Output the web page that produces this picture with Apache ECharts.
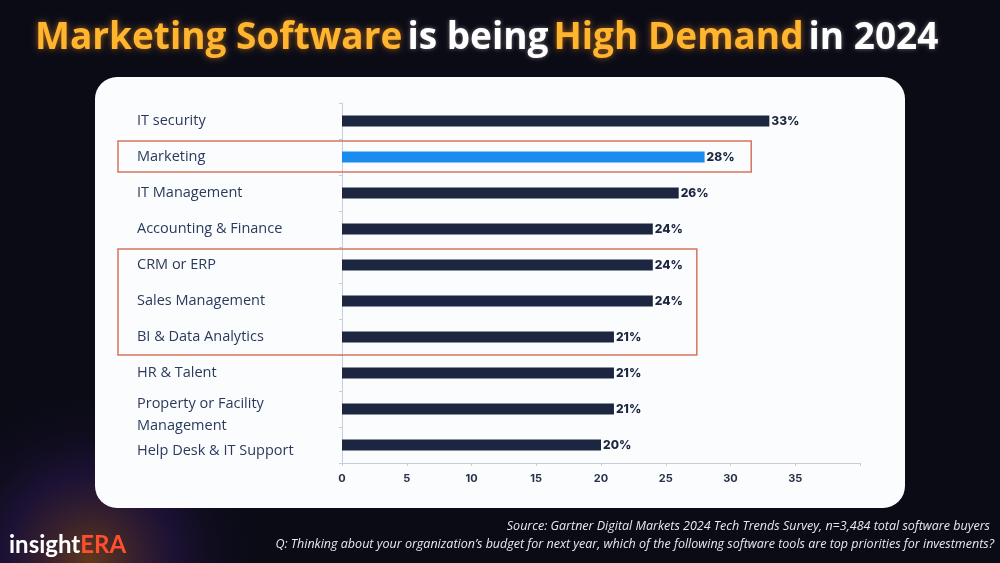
<!DOCTYPE html>
<html>
<head>
<meta charset="utf-8">
<script src="https://cdn.jsdelivr.net/npm/echarts@6/dist/echarts.min.js"></script>
<style>
  html, body { margin: 0; padding: 0; background: #0b0b16; }
  #main { width: 1000px; height: 563px; }
</style>
</head>
<body>
<div id="main"></div>
<script>
// 数据
var categories = ['IT security', 'Marketing', 'IT Management', 'Accounting & Finance', 'CRM or ERP',
    'Sales Management', 'BI & Data Analytics', 'HR & Talent', 'Property or Facility\nManagement',
    'Help Desk & IT Support'];
var shares = [33, 28, 26, 24, 24, 24, 21, 21, 21, 20];
var highlightName = 'Marketing';

var chart = echarts.init(document.getElementById('main'));

var barData = shares.map(function (v, i) {
    return {
        value: v,
        itemStyle: { color: categories[i] === highlightName ? '#1a8bef' : '#1c2640' }
    };
});

chart.setOption({
    backgroundColor: '#0b0b16',
    title: {
        left: 30,
        top: 15,
        text: '{y|Marketing Software} {w|is being} {y|High Demand} {w|in 2024}',
        textStyle: {
            rich: {
                y: { color: '#ffb52e', fontSize: 37, fontWeight: 'bold', fontFamily: 'Open Sans',
                     textShadowColor: 'rgba(255,150,30,0.6)', textShadowBlur: 6 },
                w: { color: '#ffffff', fontSize: 37, fontWeight: 'bold', fontFamily: 'Open Sans',
                     textShadowColor: 'rgba(255,255,255,0.4)', textShadowBlur: 4 }
            }
        }
    },
    grid: { left: 342, right: 140, top: 103, bottom: 100 },
    xAxis: {
        type: 'value',
        min: 0,
        max: 40,
        interval: 5,
        splitLine: { show: false },
        axisLine: { show: true, lineStyle: { color: '#c9ced8' } },
        axisTick: { show: true, length: 3, lineStyle: { color: '#c9ced8' } },
        axisLabel: {
            color: '#27314a', fontSize: 11, fontWeight: 'bold', fontFamily: 'Inter', margin: 10,
            formatter: function (v) { return v > 35 ? '' : v; }
        }
    },
    yAxis: {
        type: 'category',
        inverse: true,
        data: categories,
        axisLine: { show: true, lineStyle: { color: '#c9ced8' } },
        axisTick: { show: true, length: 3, lineStyle: { color: '#c9ced8' } },
        axisLabel: {
            interval: 0,
            align: 'left',
            margin: 205,
            color: '#2b3a5c',
            fontSize: 14.5,
            fontFamily: 'Open Sans',
            lineHeight: 22,
            // 最后两个标签整体往下挪一点（上面加一行空白）
            formatter: function (v) {
                var parts = v.split('\n');
                if (parts.length < 2 && v !== 'Help Desk & IT Support') return v;
                return '{e| }\n' + parts.map(function (p) { return '{a|' + p + '}'; }).join('\n');
            },
            rich: {
                e: { lineHeight: 12, fontSize: 6 },
                a: { lineHeight: 22, color: '#2b3a5c', fontSize: 14.5, fontFamily: 'Open Sans' }
            }
        }
    },
    series: [{
        type: 'bar',
        data: barData,
        barWidth: 11,
        label: {
            show: true,
            position: 'right',
            distance: 2,
            formatter: '{c}%',
            color: '#1c2640',
            fontSize: 12,
            fontWeight: 800,
            fontFamily: 'Inter'
        }
    }]
});

// 红色框：按坐标轴换算位置
function boxFor(id, fromCat, toCat, rightValue, padTop, padBottom) {
    var p1 = chart.convertToPixel({ gridIndex: 0 }, [rightValue, fromCat]);
    var p2 = chart.convertToPixel({ gridIndex: 0 }, [rightValue, toCat]);
    var x0 = 118;
    return {
        id: id, type: 'rect', silent: true, z: 10,
        shape: { x: x0, y: p1[1] - padTop, width: p1[0] - x0, height: p2[1] - p1[1] + padTop + padBottom },
        style: { fill: 'none', stroke: '#d9735c', lineWidth: 1.5 }
    };
}

chart.setOption({
    graphic: [
        {
            id: 'glow', type: 'circle', z: -10, silent: true,
            shape: { cx: 90, cy: 560, r: 170 },
            style: {
                fill: new echarts.graphic.RadialGradient(0.5, 0.5, 0.5, [
                    { offset: 0, color: 'rgba(255,140,40,0.35)' },
                    { offset: 0.5, color: 'rgba(90,40,160,0.22)' },
                    { offset: 1, color: 'rgba(11,11,22,0)' }
                ])
            }
        },
        {
            id: 'panel', type: 'rect', z: -5, silent: true,
            shape: { x: 95, y: 77, width: 810, height: 431, r: 22 },
            style: { fill: '#fbfcfd' }
        },
        {
            id: 'logo', type: 'text', left: 9, top: 533,
            style: {
                text: '{a|insight}{b|ERA}',
                rich: {
                    a: { fill: '#ffffff', fontSize: 24, fontWeight: 'bold', fontFamily: 'Lato' },
                    b: { fill: '#ff4f2e', fontSize: 24, fontWeight: 'bold', fontFamily: 'Lato' }
                }
            }
        },
        {
            id: 'src', type: 'text', right: 10, top: 520,
            style: {
                text: 'Source: Gartner Digital Markets 2024 Tech Trends Survey, n=3,484 total software buyers',
                fill: '#e8e8ee', fontSize: 12.5, fontStyle: 'italic', fontFamily: 'Open Sans'
            }
        },
        {
            id: 'q', type: 'text', right: 6, top: 538,
            style: {
                text: 'Q: Thinking about your organization\u2019s budget for next year, which of the following software tools are top priorities for investments?',
                fill: '#e8e8ee', fontSize: 12.5, fontStyle: 'italic', fontFamily: 'Open Sans'
            }
        },
        boxFor('box1', 'Marketing', 'Marketing', 31.6, 16, 15),
        boxFor('box2', 'CRM or ERP', 'BI & Data Analytics', 27.4, 16, 18)
    ]
});
</script>
</body>
</html>
